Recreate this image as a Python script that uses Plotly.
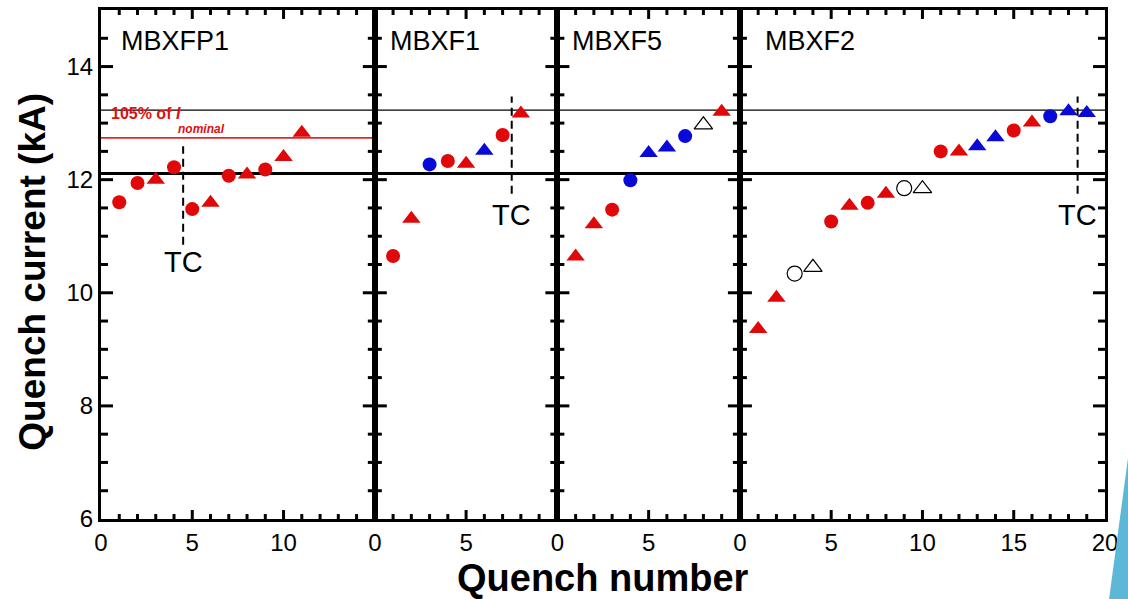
import plotly.graph_objects as go
from plotly.subplots import make_subplots

# ---------------- data ----------------
magnets = ["MBXFP1", "MBXF1", "MBXF5", "MBXF2"]
x_max = [15, 10, 10, 20]
x_ticklabels = [[0, 5, 10], [0, 5], [0, 5], [0, 5, 10, 15, 20]]
y_ticklabels = [6, 8, 10, 12, 14]
Y_MIN, Y_MAX = 6, 15

# quench number, quench current (kA), style code
# rc/rt = red circle/triangle, bc/bt = blue circle/triangle, oc/ot = open circle/triangle
q_mbxfp1 = [1, 2, 3, 4, 5, 6, 7, 8, 9, 10, 11]
i_mbxfp1 = [11.60, 11.94, 12.00, 12.22, 11.48, 11.59, 12.07, 12.09, 12.18, 12.40, 12.83]
s_mbxfp1 = ["rc", "rc", "rt", "rc", "rc", "rt", "rc", "rt", "rc", "rt", "rt"]

q_mbxf1 = [1, 2, 3, 4, 5, 6, 7, 8]
i_mbxf1 = [10.65, 11.31, 12.27, 12.33, 12.28, 12.51, 12.79, 13.17]
s_mbxf1 = ["rc", "rt", "bc", "rc", "rt", "bt", "rc", "rt"]

q_mbxf5 = [1, 2, 3, 4, 5, 6, 7, 8, 9]
i_mbxf5 = [10.64, 11.21, 11.47, 11.99, 12.47, 12.57, 12.77, 12.97, 13.20]
s_mbxf5 = ["rt", "rt", "rc", "bc", "bt", "bt", "bc", "ot", "rt"]

q_mbxf2 = list(range(1, 20))
i_mbxf2 = [9.36, 9.91, 10.34, 10.45, 11.26, 11.54, 11.59, 11.75, 11.85, 11.84,
           12.50, 12.50, 12.59, 12.75, 12.87, 13.01, 13.12, 13.21, 13.18]
s_mbxf2 = ["rt", "rt", "oc", "ot", "rc", "rt", "rc", "rt", "oc", "ot",
           "rc", "rt", "bt", "bt", "rc", "rt", "bc", "bt", "bt"]

# thermal cycle markers: panel index, quench position, y extent, label y
tc_panel = [0, 1, 3]
tc_x = [4.5, 7.5, 18.5]
tc_y0 = [10.85, 11.75, 11.75]
tc_y1 = [12.59, 13.47, 13.47]
tc_label_y = [10.55, 11.37, 11.37]

I_nominal = 12.11
I_105 = 12.74
I_ultimate = 13.23

# ---------------- figure ----------------
FONT = "Liberation Sans, Arial, sans-serif"
RED = "#E00808"
BLUE = "#0A0AD8"
W, H = 1128, 599
ML, MR, MT, MB = 101, 23, 7, 80
PW, PH = W - ML - MR, H - MT - MB
X_TOTAL = sum(x_max)

styles = {
    "rc": dict(symbol="circle", color=RED, size=14, line=dict(width=0)),
    "rt": dict(symbol="triangle-up", color=RED, size=16, line=dict(width=0)),
    "bc": dict(symbol="circle", color=BLUE, size=14, line=dict(width=0)),
    "bt": dict(symbol="triangle-up", color=BLUE, size=16, line=dict(width=0)),
    "oc": dict(symbol="circle-open", color="black", size=15, line=dict(width=1.2, color="black")),
    "ot": dict(symbol="triangle-up-open", color="black", size=16, line=dict(width=1.2, color="black")),
}

fig = make_subplots(rows=1, cols=4, shared_yaxes=True, horizontal_spacing=0,
                    column_widths=x_max)

panels = [(q_mbxfp1, i_mbxfp1, s_mbxfp1), (q_mbxf1, i_mbxf1, s_mbxf1),
          (q_mbxf5, i_mbxf5, s_mbxf5), (q_mbxf2, i_mbxf2, s_mbxf2)]

for p, (qs, cur, st) in enumerate(panels):
    for code, mk in styles.items():
        xs = [q for q, s in zip(qs, st) if s == code]
        ys = [c for c, s in zip(cur, st) if s == code]
        if xs:
            fig.add_trace(go.Scatter(x=xs, y=ys, mode="markers", marker=mk,
                                     showlegend=False, hoverinfo="x+y"),
                          row=1, col=p + 1)

# TC dashed lines and labels
for p, x, y0, y1, ly in zip(tc_panel, tc_x, tc_y0, tc_y1, tc_label_y):
    fig.add_trace(go.Scatter(x=[x, x], y=[y0, y1], mode="lines",
                             line=dict(color="black", width=2, dash="8px,5px"),
                             showlegend=False, hoverinfo="skip"),
                  row=1, col=p + 1)
    xa = "x" if p == 0 else f"x{p + 1}"
    fig.add_annotation(x=x, y=ly, xref=xa, yref="y", text="TC", showarrow=False,
                       font=dict(family=FONT, size=29, color="black"),
                       xanchor="center", yanchor="middle")

# panel labels
label_x = [1.0, 0.7, 0.7, 1.25]
for p, name in enumerate(magnets):
    xa = "x" if p == 0 else f"x{p + 1}"
    fig.add_annotation(x=label_x[p], y=14.45, xref=xa, yref="y", text=name,
                       showarrow=False, font=dict(family=FONT, size=27, color="black"),
                       xanchor="left", yanchor="middle")

shapes = []
# horizontal reference lines
shapes.append(dict(type="line", xref="paper", yref="y", x0=0, x1=1, y0=I_ultimate, y1=I_ultimate,
                   line=dict(color="black", width=1.2), layer="below"))
shapes.append(dict(type="line", xref="paper", yref="y", x0=0, x1=1, y0=I_nominal, y1=I_nominal,
                   line=dict(color="black", width=3), layer="below"))
shapes.append(dict(type="line", xref="x domain", yref="y", x0=0, x1=1, y0=I_105, y1=I_105,
                   line=dict(color="#E02828", width=1.8), layer="below"))
fig.add_annotation(x=0.45, y=13.17, xref="x", yref="y",
                   text="<b>105% of <i>I</i></b>",
                   showarrow=False, font=dict(family=FONT, size=16, color="#E01010"),
                   xanchor="left", yanchor="middle")
fig.add_annotation(x=4.1, y=12.90, xref="x", yref="y",
                   text="<b><i>nominal</i></b>",
                   showarrow=False, font=dict(family=FONT, size=12, color="#E01010"),
                   xanchor="left", yanchor="middle")

# tick marks: paper-referenced line shapes, inside on all four sides of every panel
TICK = dict(color="black", width=3)
offset = 0
for p in range(4):
    left = offset / X_TOTAL
    right = (offset + x_max[p]) / X_TOTAL
    for q in range(1, x_max[p]):
        xp = (offset + q) / X_TOTAL
        ln = (9 if q % 5 == 0 else 5) / PH
        shapes.append(dict(type="line", xref="paper", yref="paper",
                           x0=xp, x1=xp, y0=0, y1=ln, line=TICK, layer="above"))
        shapes.append(dict(type="line", xref="paper", yref="paper",
                           x0=xp, x1=xp, y0=1, y1=1 - ln, line=TICK, layer="above"))
    for k in range(1, 18):
        v = Y_MIN + 0.5 * k
        yp = (v - Y_MIN) / (Y_MAX - Y_MIN)
        ln = (12 if v % 2 == 0 else 7) / PW
        shapes.append(dict(type="line", xref="paper", yref="paper",
                           x0=left, x1=left + ln, y0=yp, y1=yp, line=TICK, layer="above"))
        shapes.append(dict(type="line", xref="paper", yref="paper",
                           x0=right, x1=right - ln, y0=yp, y1=yp, line=TICK, layer="above"))
    offset += x_max[p]

# decorative slide corner
shapes.append(dict(type="path", xref="paper", yref="paper",
                   path="M 1.0229 0.12 L 1.004 -0.158 L 1.03 -0.158 L 1.03 0.12 Z",
                   fillcolor="#5DB8D8", line=dict(width=0), layer="above"))

# axes
for p in range(4):
    fig.update_xaxes(row=1, col=p + 1, range=[0, x_max[p]],
                     tickmode="array", tickvals=x_ticklabels[p],
                     ticktext=[str(v) for v in x_ticklabels[p]], ticks="",
                     showline=True, linewidth=3, linecolor="black", mirror=True,
                     showgrid=False, zeroline=False,
                     tickfont=dict(family=FONT, size=24, color="black"))
    fig.update_yaxes(row=1, col=p + 1, range=[Y_MIN, Y_MAX],
                     tickmode="array", tickvals=y_ticklabels, ticks="",
                     showline=True, linewidth=3, linecolor="black", mirror=True,
                     showgrid=False, zeroline=False, showticklabels=(p == 0),
                     tickfont=dict(family=FONT, size=24, color="black"))

# axis titles
fig.add_annotation(x=0.5, y=-0.115, xref="paper", yref="paper",
                   text="<b>Quench number</b>",
                   showarrow=False, font=dict(family=FONT, size=38, color="black"),
                   xanchor="center", yanchor="middle")
fig.add_annotation(x=-0.0677, y=0.486, xref="paper", yref="paper",
                   text="<b>Quench current (kA)</b>", textangle=-90,
                   showarrow=False, font=dict(family=FONT, size=37, color="black"),
                   xanchor="center", yanchor="middle")

fig.update_layout(width=W, height=H, margin=dict(l=ML, r=MR, t=MT, b=MB),
                  plot_bgcolor="white", paper_bgcolor="white", showlegend=False,
                  font=dict(family=FONT, color="black"), shapes=shapes)

fig.write_html("out.html")
